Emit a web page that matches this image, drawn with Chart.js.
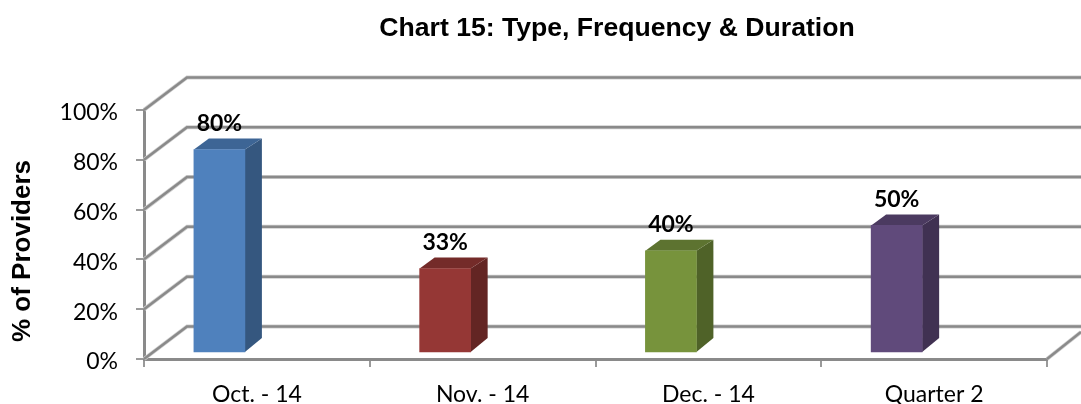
<!DOCTYPE html>
<html lang="en">
<head>
    <meta charset="UTF-8">
    <title>Chart 15: Type, Frequency &amp; Duration</title>
    <script src="https://cdn.jsdelivr.net/npm/chart.js"></script>
    <style>
        html, body { margin: 0; padding: 0; background: #fff; }
        canvas { display: block; }
    </style>
</head>
<body>
<canvas id="chart" width="1081" height="404"></canvas>
<script>
  const categories = ['Oct. - 14', 'Nov. - 14', 'Dec. - 14', 'Quarter 2'];
  const values = [80, 33, 40, 50];
  const frontColors = ['#4f81bd', '#953735', '#77933c', '#604a7b'];
  const sideColors = ['#35577f', '#632523', '#4f6228', '#403152'];
  const topColors = ['#3d6595', '#742b29', '#5d7330', '#4b3a60'];
  const barPoints = values.map((v, i) => ({x: i, y: v}));

  const gridDark = '#8a8a8a';
  const gridLight = '#cfcfcf';
  const wall = {dx: 43, dy: -32.5};

  function stroke(ctx, pts) {
    [[4, gridLight], [2.5, gridDark]].forEach(([w, c]) => {
      ctx.lineWidth = w;
      ctx.strokeStyle = c;
      ctx.beginPath();
      pts.forEach((p, i) => i ? ctx.lineTo(p[0], p[1]) : ctx.moveTo(p[0], p[1]));
      ctx.stroke();
    });
  }

  // back wall, left side wall and floor edge that Excel draws in 3D mode
  const wallPlugin = {
    id: 'wall',
    beforeDatasetsDraw(chart) {
      const {ctx, chartArea, scales} = chart;
      const left = chartArea.left, right = chartArea.right;
      ctx.save();
      scales.y.ticks.forEach((t, i) => {
        const y = scales.y.getPixelForTick(i);
        stroke(ctx, [[left, y], [left + wall.dx, y + wall.dy], [chart.width, y + wall.dy]]);
      });
      stroke(ctx, [[right, chartArea.bottom], [chart.width, chartArea.bottom - 27]]);
      ctx.restore();
    }
  };

  // depth faces of the bars, and the value labels
  const barPlugin = {
    id: 'bar3d',
    beforeDatasetsDraw(chart) {
      const {ctx} = chart;
      ctx.save();
      chart.getDatasetMeta(0).data.forEach((bar, i) => {
        const l = bar.x - bar.width / 2, r = bar.x + bar.width / 2;
        ctx.fillStyle = sideColors[i];
        ctx.beginPath();
        ctx.moveTo(r, bar.y);
        ctx.lineTo(r + 17, bar.y - 11);
        ctx.lineTo(r + 17, bar.base - 14);
        ctx.lineTo(r, bar.base);
        ctx.closePath();
        ctx.fill();
        ctx.fillStyle = topColors[i];
        ctx.beginPath();
        ctx.moveTo(l, bar.y);
        ctx.lineTo(l + 15, bar.y - 11);
        ctx.lineTo(r + 17, bar.y - 11);
        ctx.lineTo(r, bar.y);
        ctx.closePath();
        ctx.fill();
      });
      ctx.restore();
    },
    afterDatasetsDraw(chart) {
      const {ctx} = chart;
      ctx.save();
      ctx.fillStyle = '#000';
      ctx.font = 'bold 23px Lato';
      ctx.textAlign = 'center';
      ctx.textBaseline = 'middle';
      chart.getDatasetMeta(0).data.forEach((bar, i) => {
        ctx.fillText(values[i] + '%', bar.x, bar.y - 26);
      });
      ctx.font = 'bold 26px "Liberation Sans"';
      ctx.translate(23, 251);
      ctx.rotate(-Math.PI / 2);
      ctx.fillText('% of Providers', 0, 0);
      ctx.restore();
    }
  };

  // title is centred over the whole 3D box, not over the front plane
  const titlePlugin = {
    id: 'titleShift',
    afterLayout(chart) {
      chart.titleBlock.left = 153;
      chart.titleBlock.right = 1081;
    }
  };

  new Chart(document.getElementById('chart'), {
    type: 'bar',
    data: {
      labels: categories,
      datasets: [{
        data: barPoints,
        xAxisID: 'xBars',
        yAxisID: 'yBars',
        backgroundColor: frontColors,
        barThickness: 51
      }]
    },
    plugins: [wallPlugin, barPlugin, titlePlugin],
    options: {
      responsive: false,
      animation: false,
      layout: {padding: {right: 34, left: 0, top: 0, bottom: 0}},
      plugins: {
        legend: {display: false},
        tooltip: {enabled: false},
        title: {
          display: true,
          text: 'Chart 15: Type, Frequency & Duration',
          color: '#000',
          font: {family: '"Liberation Sans"', size: 26.6, weight: 'bold'},
          padding: {top: 13, bottom: 65}
        }
      },
      scales: {
        x: {
          type: 'category',
          offset: true,
          afterFit(s) { s.height = 45; },
          border: {display: true, color: gridDark, width: 3},
          grid: {drawOnChartArea: false, offset: true, color: '#9a9a9a', lineWidth: 2, tickLength: 8},
          ticks: {color: '#000', font: {family: 'Lato', size: 23}, padding: 14, maxRotation: 0, autoSkip: false}
        },
        y: {
          min: 0,
          max: 100,
          afterFit(s) { s.width = 144; },
          border: {display: true, color: gridDark, width: 3},
          grid: {drawOnChartArea: false, color: '#9a9a9a', lineWidth: 2, tickLength: 8},
          ticks: {
            stepSize: 20,
            color: '#000',
            // empty first line plus a small line height nudges labels 3px below the tick
            font: {family: 'Lato', size: 23, lineHeight: '6px'},
            padding: 18,
            callback: v => ['', v + '%']
          }
        },
        // bars stand inside the 3D box, so they get their own hidden scales
        xBars: {type: 'linear', axis: 'x', display: false, offset: false, min: -0.334, max: 3.666},
        yBars: {type: 'linear', axis: 'y', display: false, min: -2.77, max: 95.65}
      }
    }
  });
</script>
</body>
</html>
